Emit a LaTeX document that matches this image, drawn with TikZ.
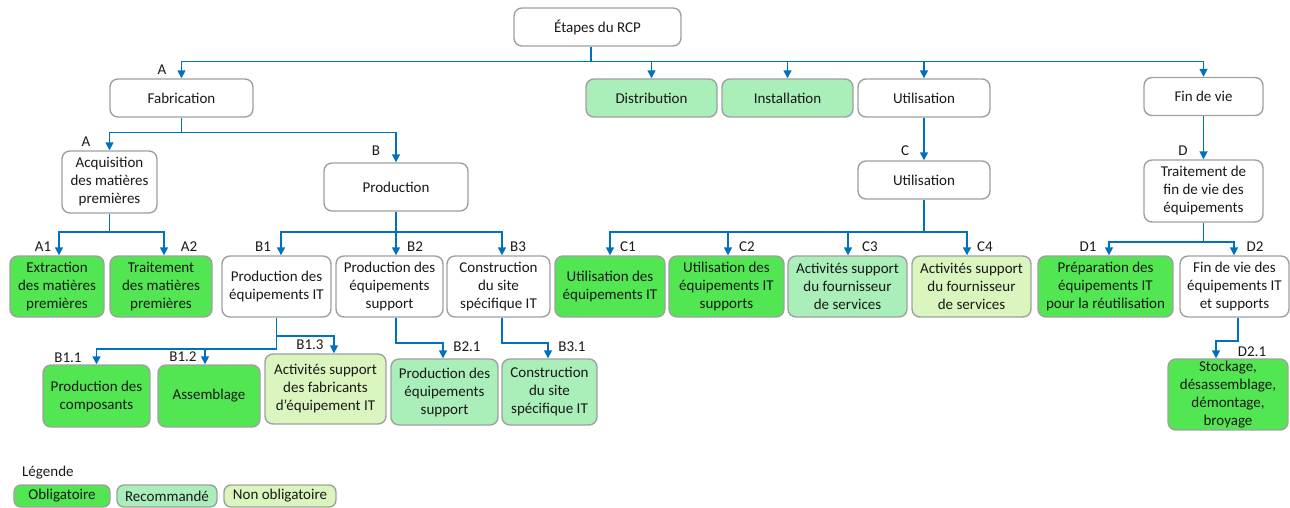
\documentclass[tikz,border=0pt]{standalone}
\usepackage{fontspec}
\setmainfont{Carlito}
\usetikzlibrary{arrows.meta}
\definecolor{oblig}{RGB}{82,230,82}
\definecolor{recom}{RGB}{170,238,185}
\definecolor{nonob}{RGB}{218,245,190}
\definecolor{bordc}{RGB}{160,160,160}
\definecolor{arrc}{RGB}{0,112,192}
\definecolor{txt}{RGB}{25,25,25}
\begin{document}
\begin{tikzpicture}[x=1pt,y=-1pt,
  box/.style={draw=bordc, line width=1.4pt, rounded corners=8pt, align=center,
    font=\fontsize{15}{18}\selectfont, text=txt, inner sep=0pt, fill=white},
  sz/.style 2 args={minimum width=#1pt, minimum height=#2pt},
  ob/.style={box, fill=oblig},
  re/.style={box, fill=recom},
  no/.style={box, fill=nonob},
  conn/.style={draw=arrc, line width=1.6pt},
  arr/.style={conn, -{Triangle[width=8pt,length=8pt]}},
  lab/.style={font=\fontsize{15}{18}\selectfont, text=txt, inner sep=0pt}]
\useasboundingbox (0,0) rectangle (1290,508);

% level 0 and 1
\node[box, sz={167}{38}] (etapes) at (597.5,27) {Étapes du RCP};
\node[box, sz={143}{38}] (fab) at (181.5,98) {Fabrication};
\node[re, sz={131}{38}] (dist) at (651.5,98) {Distribution};
\node[re, sz={131}{38}] (inst) at (787.5,98) {Installation};
\node[box, sz={132}{38}] (util) at (924,98) {Utilisation};
\node[box, sz={119}{38}] (fin) at (1203.5,96.5) {Fin de vie};

% level 2
\node[box, sz={95}{62}] (acq) at (109.5,182) {Acquisition\\des matières\\premières};
\node[box, sz={144}{48}] (prod) at (396,187) {Production};
\node[box, sz={132}{38}] (util2) at (924,180) {Utilisation};
\node[box, sz={119}{62}] (trait) at (1203.5,191) {Traitement de\\fin de vie des\\équipements};

% level 3
\node[ob, sz={94}{61}] (a1) at (57,286.5) {Extraction\\des matières\\premières};
\node[ob, sz={102}{61}] (a2) at (161,286.5) {Traitement\\des matières\\premières};
\node[box, sz={109}{61}] (b1) at (276.5,286.5) {Production des\\équipements IT};
\node[box, sz={107}{61}] (b2) at (389.5,286.5) {Production des\\équipements\\support};
\node[box, sz={103}{61}] (b3) at (498.5,286.5) {Construction\\du site\\spécifique IT};
\node[ob, sz={110}{61}] (c1) at (610,286.5) {Utilisation des\\équipements IT};
\node[ob, sz={115}{61}] (c2) at (726.5,286.5) {Utilisation des\\équipements IT\\supports};
\node[re, sz={119}{61}] (c3) at (847.5,286.5) {Activités support\\du fournisseur\\de services};
\node[no, sz={119}{61}] (c4) at (971.5,286.5) {Activités support\\du fournisseur\\de services};
\node[ob, sz={135}{61}] (d1) at (1105.5,286.5) {Préparation des\\équipements IT\\pour la réutilisation};
\node[box, sz={109}{61}] (d2) at (1234.5,286.5) {Fin de vie des\\équipements IT\\et supports};

% level 4
\node[ob, sz={107}{62}] (b11) at (96.5,396) {Production des\\composants};
\node[ob, sz={102}{62}] (b12) at (209,396) {Assemblage};
\node[no, sz={121}{70}] (b13) at (325.5,389) {Activités support\\des fabricants\\d’équipement IT};
\node[re, sz={107}{66}] (b21) at (444.5,392) {Production des\\équipements\\support};
\node[re, sz={95}{66}] (b31) at (549.5,392) {Construction\\du site\\spécifique IT};
\node[ob, sz={120}{71}] (d21) at (1228,394.5) {Stockage,\\désassemblage,\\démontage,\\broyage};

% connectors
\draw[conn] ([xshift=-6.5pt]etapes.south) -- ++(0,15) coordinate (bus0);
\draw[arr] (bus0) -| (fab.north);
\draw[arr] (bus0) -| (dist.north);
\draw[arr] (bus0) -| (inst.north);
\draw[arr] (bus0) -| (util.north);
\draw[arr] (bus0) -| (fin.north);

\draw[conn] (fab.south) -- ++(0,15) coordinate (busF);
\draw[arr] (busF) -| (acq.north);
\draw[arr] (busF) -| (prod.north);

\draw[arr] (util.south) -- (util2.north);
\draw[arr] (fin.south) -- (trait.north);

\draw[conn] (acq.south) -- ++(0,18) coordinate (busA);
\draw[arr] (busA) -| ([xshift=2pt]a1.north);
\draw[arr] (busA) -| ([xshift=3pt]a2.north);

\draw[conn] (prod.south) -- ++(0,20) coordinate (busP);
\draw[arr] (busP) -| ([xshift=4.5pt]b1.north);
\draw[arr] (busP) -| ([xshift=6.5pt]b2.north);
\draw[arr] (busP) -| ([xshift=3.5pt]b3.north);

\draw[conn] (util2.south) -- ++(0,32) coordinate (busU);
\draw[arr] (busU) -| (c1.north);
\draw[arr] (busU) -| ([xshift=1.5pt]c2.north);
\draw[arr] (busU) -| ([xshift=0.5pt]c3.north);
\draw[arr] (busU) -| ([xshift=-4.5pt]c4.north);

\draw[conn] (trait.south) -- ++(0,19) coordinate (busT);
\draw[arr] (busT) -| ([xshift=3.5pt]d1.north);
\draw[arr] (busT) -| ([xshift=-0.5pt]d2.north);

\draw[conn] (b1.south) -- ++(0,31) coordinate (busB1);
\draw[arr] (busB1) -| (b11.north);
\draw[arr] (busB1) -| ([xshift=-4pt]b12.north);
\draw[arr] (b1.south) ++(0,18) -| ([xshift=8.5pt]b13.north);

\draw[arr] ([xshift=6.5pt]b2.south) -- ++(0,25) -| ([xshift=-1.5pt]b21.north);
\draw[arr] ([xshift=3.5pt]b3.south) -- ++(0,25) -| ([xshift=-1.5pt]b31.north);
\draw[arr] ([xshift=3.5pt]d2.south) -- ++(0,23) -| ([xshift=-12pt]d21.north);

% connector labels
\node[lab] (lA) at (162,70) {A};
\node[lab] (lA2) at (86,142) {A};
\node[lab] (lB) at (376,151) {B};
\node[lab] (lC) at (905,151) {C};
\node[lab] (lD) at (1183,151) {D};
\node[lab] (lA1) at (43,247) {A1};
\node[lab] (lA21) at (189,247) {A2};
\node[lab] (lB1) at (263,247) {B1};
\node[lab] (lB2) at (415,247) {B2};
\node[lab] (lB3) at (518,247) {B3};
\node[lab] (lC1) at (628,247) {C1};
\node[lab] (lC2) at (747,247) {C2};
\node[lab] (lC3) at (870,247) {C3};
\node[lab] (lC4) at (985,247) {C4};
\node[lab] (lD1) at (1088,247) {D1};
\node[lab] (lD2) at (1255,247) {D2};
\node[lab] (lB11) at (68,358) {B1.1};
\node[lab] (lB12) at (183,357) {B1.2};
\node[lab] (lB13) at (310,345) {B1.3};
\node[lab] (lB21) at (467,347) {B2.1};
\node[lab] (lB31) at (572,347) {B3.1};
\node[lab] (lD21) at (1252,352) {D2.1};

% legend
\node[lab, anchor=west] (leg) at (22,473) {Légende};
\node[ob, sz={96}{22}, rounded corners=7pt] (lo) at (62,496) {Obligatoire};
\node[re, sz={100}{22}, rounded corners=7pt] (lr) at (167,496) {Recommandé};
\node[no, sz={112}{22}, rounded corners=7pt] (ln) at (280,496) {Non obligatoire};
\end{tikzpicture}
\end{document}
